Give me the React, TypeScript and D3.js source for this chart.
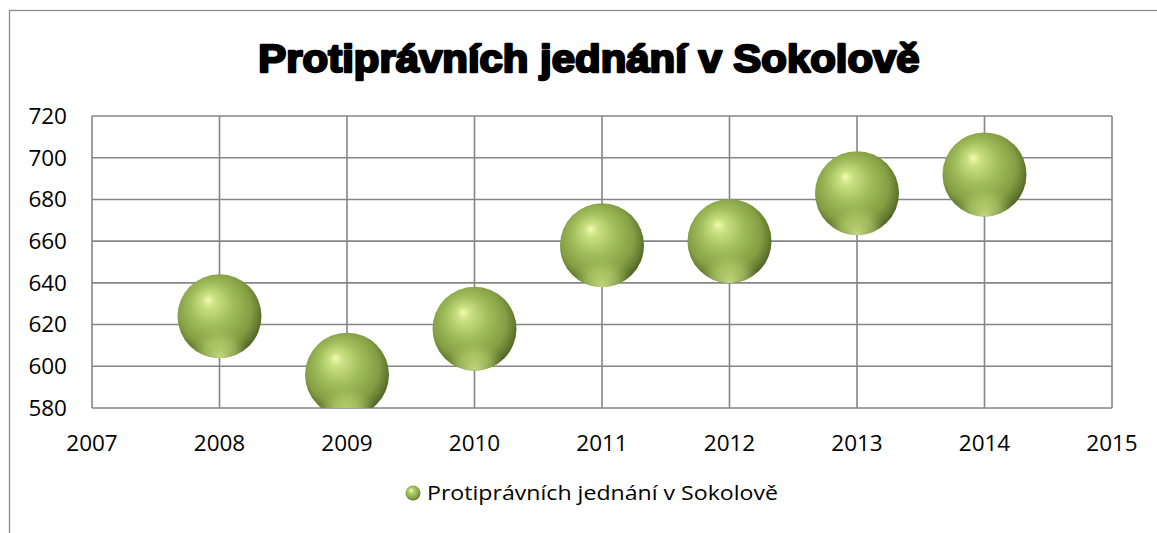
import React from "react";
import * as d3 from "d3";

const years = [2008, 2009, 2010, 2011, 2012, 2013, 2014];
const values = [624, 596, 618, 658, 660, 683, 692];
const xTicks = [2007, 2008, 2009, 2010, 2011, 2012, 2013, 2014, 2015];
const yTicks = [580, 600, 620, 640, 660, 680, 700, 720];
const title = "Protiprávních jednání v Sokolově";
const seriesName = "Protiprávních jednání v Sokolově";

const W = 1157;
const H = 533;
const plot = { left: 92, right: 1112, top: 116, bottom: 408 };
const gridColor = "#868686";
const labelFont = "'Open Sans', 'Noto Sans', sans-serif";

export default function App() {
  const x = d3.scaleLinear().domain([2007, 2015]).range([plot.left, plot.right]);
  const y = d3.scaleLinear().domain([580, 720]).range([plot.bottom, plot.top]);
  const r = 42;
  const pts = years.map((yr, i) => ({ yr, v: values[i] }));

  return (
    <svg
      width={W}
      height={H}
      style={{ position: "absolute", left: 0, top: 0, background: "#fff" }}
    >
      <defs>
        <radialGradient id="sph" cx="46%" cy="44%" r="56%" fx="36%" fy="30%">
          <stop offset="0%" stopColor="#f2fcb0" />
          <stop offset="14%" stopColor="#cbe183" />
          <stop offset="45%" stopColor="#a1be5c" />
          <stop offset="78%" stopColor="#849f44" />
          <stop offset="92%" stopColor="#677f32" />
          <stop offset="100%" stopColor="#526628" />
        </radialGradient>
        <radialGradient id="rim" cx="50%" cy="100%" r="60%" fx="50%" fy="100%">
          <stop offset="0%" stopColor="#d8ee90" stopOpacity="0.85" />
          <stop offset="35%" stopColor="#c2dc78" stopOpacity="0.5" />
          <stop offset="60%" stopColor="#a3c05e" stopOpacity="0" />
        </radialGradient>
        <radialGradient id="legSph" cx="46%" cy="44%" r="56%" fx="36%" fy="30%">
          <stop offset="0%" stopColor="#f0ffb0" />
          <stop offset="30%" stopColor="#b8d270" />
          <stop offset="80%" stopColor="#86a245" />
          <stop offset="100%" stopColor="#5d7430" />
        </radialGradient>
        <clipPath id="plotClip">
          <rect
            x={plot.left}
            y={plot.top}
            width={plot.right - plot.left}
            height={plot.bottom - plot.top}
          />
        </clipPath>
      </defs>

      {/* outer chart border (cropped right/bottom) */}
      <rect x={9.5} y={10.5} width={1300} height={700} fill="none" stroke="#8c8c8c" strokeWidth={1.3} />

      {/* title */}
      <g transform="translate(589,72) scale(1.075,1)">
        <text
          x={0}
          y={0}
          textAnchor="middle"
          fontFamily="'Liberation Sans', Arial, sans-serif"
          fontWeight={700}
          fontSize={39}
          fill="#000"
          stroke="#000"
          strokeWidth={2.4}
          strokeLinejoin="round"
        >
          {title}
        </text>
      </g>

      {/* grid */}
      {yTicks.map((t) => (
        <line
          key={"h" + t}
          x1={plot.left}
          x2={plot.right}
          y1={y(t)}
          y2={y(t)}
          stroke={gridColor}
          strokeWidth={1.6}
        />
      ))}
      {xTicks.map((t) => (
        <line
          key={"v" + t}
          x1={x(t)}
          x2={x(t)}
          y1={plot.top}
          y2={plot.bottom}
          stroke={gridColor}
          strokeWidth={1.6}
        />
      ))}

      {/* y labels */}
      {yTicks.map((t) => (
        <text
          key={"yl" + t}
          x={67}
          y={y(t)}
          dy="0.35em"
          textAnchor="end"
          fontFamily={labelFont}
          fontSize={22.5}
          fill="#000"
        >
          {t}
        </text>
      ))}

      {/* x labels */}
      {xTicks.map((t) => (
        <text
          key={"xl" + t}
          x={x(t)}
          y={451}
          textAnchor="middle"
          fontFamily={labelFont}
          fontSize={22.5}
          fill="#000"
        >
          {t}
        </text>
      ))}

      {/* bubbles */}
      <g clipPath="url(#plotClip)">
        {pts.map((p) => (
          <g key={p.yr}>
            <circle cx={x(p.yr)} cy={y(p.v)} r={r} fill="url(#sph)" />
            <circle cx={x(p.yr)} cy={y(p.v)} r={r} fill="url(#rim)" />
          </g>
        ))}
      </g>

      {/* legend */}
      <circle cx={413} cy={493} r={7.5} fill="url(#legSph)" />
      <text
        x={427}
        y={500}
        fontFamily={labelFont}
        fontSize={20}
        fill="#000"
        textLength={351}
        lengthAdjust="spacingAndGlyphs"
      >
        {seriesName}
      </text>
    </svg>
  );
}
